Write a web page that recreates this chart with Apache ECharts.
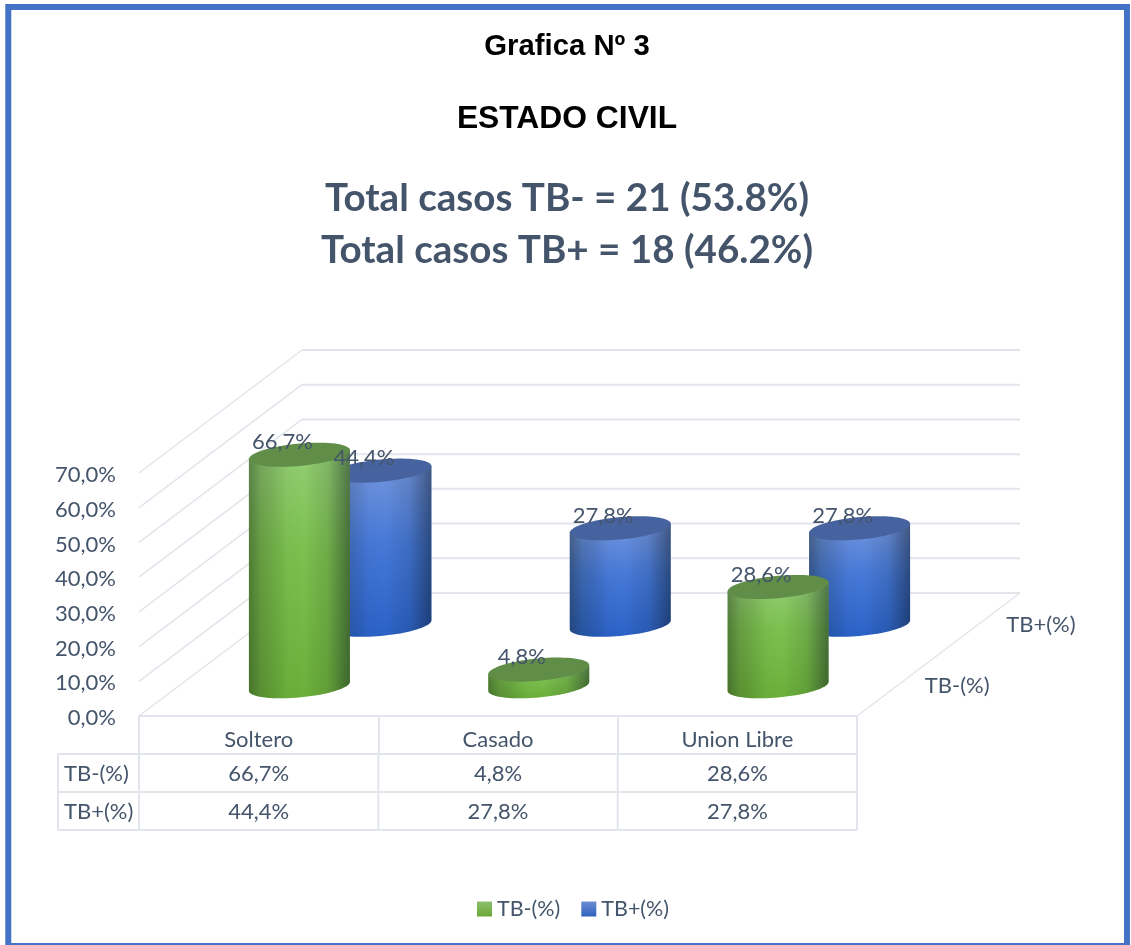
<!DOCTYPE html>
<html><head><meta charset="utf-8">
<style>html,body{margin:0;padding:0;background:#fff}#c{width:1131px;height:945px}</style>
<script src="https://cdn.jsdelivr.net/npm/echarts@6/dist/echarts.min.js"></script>
</head><body><div id="c"></div>
<script>
const categories = ['Soltero', 'Casado', 'Union Libre'];
const tbNeg = [66.7, 4.8, 28.6];
const tbPos = [44.4, 27.8, 27.8];
const seriesNames = ['TB-(%)', 'TB+(%)'];
const yTicks = [0, 10, 20, 30, 40, 50, 60, 70];

const DEPTH_X = 163, DEPTH_Y = -123;      // projection of the 3D depth axis
const ROW_H = 38, STUB_W = 81;            // data table layout
const WIDTH_RATIO = 0.422, ELL_B = 11.2, ELL_K = 4.5, CYL_SHIFT = 1;   // cylinder shape
const GRID_COLOR = '#E2E5EB', TEXT = '#44546A', FONT = 'Lato', LABEL_SIZE = 22;
const fmt = v => v.toFixed(1).replace('.', ',') + '%';
const H = (stops) => ({type:'linear',x:0,y:0,x2:1,y2:0,colorStops:stops});
const V = (stops) => ({type:'linear',x:0,y:0,x2:0,y2:1,colorStops:stops});
const stops = (...a) => a.map(([offset,color]) => ({offset,color}));

const edgeShade = H(stops([0,'rgba(20,30,20,.42)'],[.12,'rgba(20,30,20,.22)'],[.38,'rgba(0,0,0,.02)'],[.55,'rgba(0,0,0,0)'],[.78,'rgba(10,20,30,.12)'],[.93,'rgba(10,20,30,.36)'],[1,'rgba(10,20,30,.48)']));

function ellipsePts(cx, cy, a, from, to, n) {
  const p = [];
  for (let i = 0; i <= n; i++) {
    const t = from + (to - from) * i / n;
    p.push([cx + a * Math.cos(t), cy + ELL_B * Math.sin(t) - ELL_K * Math.cos(t)]);
  }
  return p;
}

function cylinder(depth, bodyFill, topFill) {
  return function (params, api) {
    const i = api.value(0), v = api.value(1);
    const base = api.coord([i, 0]), top = api.coord([i, v]);
    const a = api.size([1, 0])[0] * WIDTH_RATIO / 2;
    const cx = base[0] + DEPTH_X * depth, by = base[1] + DEPTH_Y * depth + CYL_SHIFT, ty = top[1] + DEPTH_Y * depth + CYL_SHIFT;
    const front = ellipsePts(cx, by, a, 0, Math.PI, 40);
    const pts = front.concat([[cx - a, ty + ELL_K], [cx + a, ty - ELL_K]]);
    return {type:'group', children:[
      {type:'polygon', shape:{points:pts}, style:{fill:bodyFill}},
      {type:'polygon', shape:{points:pts}, style:{fill:edgeShade}},
      {type:'polygon', shape:{points:ellipsePts(cx, ty, a, 0, Math.PI*2, 72)}, style:{fill:topFill}}
    ]};
  };
}

function frame(params, api) {
  const band = api.size([1, 0])[0];
  const p0 = api.coord([0, 0]);
  const x0 = p0[0] - band / 2, y0 = p0[1];
  const x1 = x0 + band * categories.length;
  const kids = [];
  const line = (x1_, y1_, x2_, y2_, w) => kids.push({type:'line', shape:{x1:x1_,y1:y1_,x2:x2_,y2:y2_}, style:{stroke:GRID_COLOR,lineWidth:w}});
  const txt = (text, x, y, align) => kids.push({type:'text', style:{text, x, y, align:align||'center', verticalAlign:'middle', fill:TEXT, font:LABEL_SIZE+'px '+FONT}});
  yTicks.forEach(t => {
    const y = api.coord([0, t])[1];
    line(x0, y, x0 + DEPTH_X, y + DEPTH_Y, 1.5);
    line(x0 + DEPTH_X, y + DEPTH_Y, x1 + DEPTH_X, y + DEPTH_Y, 2);
  });
  line(x1, y0, x1 + DEPTH_X, y0 + DEPTH_Y, 1.5);
  [1, 2, 3].forEach(r => line(x0 - STUB_W, y0 + ROW_H * r, x1, y0 + ROW_H * r, 2));
  line(x0 - STUB_W, y0 + ROW_H, x0 - STUB_W, y0 + ROW_H * 3, 2);
  for (let c = 0; c <= categories.length; c++) line(x0 + band * c, y0 + ROW_H, x0 + band * c, y0 + ROW_H * 3, 2);
  [tbNeg, tbPos].forEach((arr, r) => {
    const y = y0 + ROW_H * (r + 1.5) + 0.5;
    txt(seriesNames[r], x0 - STUB_W + 6, y, 'left');
    arr.forEach((v, c) => txt(fmt(v), api.coord([c, 0])[0], y));
  });
  [0.25, 0.75].forEach((d, r) => txt(seriesNames[r], x1 + DEPTH_X * d + 27, y0 + DEPTH_Y * d + 1, 'left'));
  return {type:'group', children:kids};
}

function dataLabel(params, api) {
  const i = api.value(0), v = api.value(1), d = api.value(2);
  const top = api.coord([i, v]);
  return {type:'text', style:{text:fmt(v), x:top[0] + DEPTH_X * d - 17, y:top[1] + DEPTH_Y * d - 11.5,
    align:'center', verticalAlign:'middle', fill:TEXT, font:LABEL_SIZE+'px '+FONT}};
}

const greenBody = V(stops([0,'#93CE74'],[.4,'#7CC04F'],[1,'#6BB03A']));
const blueBody = V(stops([0,'#7396DE'],[.45,'#4679D8'],[1,'#2B62C6']));
const greenKey = V(stops([0,'#8DBE6E'],[1,'#6BAA38']));
const blueKey = V(stops([0,'#6E8CD2'],[1,'#2F62BE']));
const labelData = tbPos.map((v,i)=>[i,v,.75]).concat(tbNeg.map((v,i)=>[i,v,.25]));
const titleBase = {left:562, textAlign:'center'};

echarts.init(document.getElementById('c'), null, {renderer:'canvas', width:1131, height:945}).setOption({
  animation:false,
  backgroundColor:'#fff',
  title:[
    {...titleBase, text:'Grafica Nº 3', top:27, textStyle:{fontFamily:'Liberation Sans',fontWeight:'bold',fontSize:29.3,color:'#000'}},
    {...titleBase, text:'ESTADO CIVIL', top:98, textStyle:{fontFamily:'Liberation Sans',fontWeight:'bold',fontSize:31.8,color:'#000'}},
    {...titleBase, text:'Total casos TB- = 21 (53.8%)', top:174, textStyle:{fontFamily:FONT,fontWeight:'bold',fontSize:38.6,color:TEXT}},
    {...titleBase, text:'Total casos TB+ = 18 (46.2%)', top:226, textStyle:{fontFamily:FONT,fontWeight:'bold',fontSize:38.6,color:TEXT}}
  ],
  graphic:[{type:'rect', silent:true, shape:{x:8.3,y:7,width:1118.7,height:939}, style:{fill:'none',stroke:'#4472C4',lineWidth:6}}],
  legend:{left:472, top:893, itemWidth:15, itemHeight:15, itemGap:21, icon:'rect',
    data:[{name:seriesNames[0],itemStyle:{color:greenKey}},{name:seriesNames[1],itemStyle:{color:blueKey}}],
    textStyle:{color:TEXT,fontFamily:FONT,fontSize:21.5}},
  grid:{left:139, top:473, width:718, height:243, containLabel:false},
  xAxis:{type:'category', data:categories, boundaryGap:true,
    axisLine:{lineStyle:{color:GRID_COLOR,width:2}},
    axisTick:{show:true, alignWithLabel:false, length:38, lineStyle:{color:GRID_COLOR,width:2}},
    axisLabel:{color:TEXT, fontFamily:FONT, fontSize:LABEL_SIZE, margin:13}},
  yAxis:{type:'value', min:0, max:70, interval:10, axisLine:{show:false}, axisTick:{show:false}, splitLine:{show:false},
    axisLabel:{color:TEXT, fontFamily:FONT, fontSize:LABEL_SIZE, margin:23, formatter:v => '{a|' + fmt(v) + '}',
      rich:{a:{color:TEXT, fontFamily:FONT, fontSize:LABEL_SIZE, padding:[4,0,0,0]}}}},
  series:[
    {type:'custom', name:'frame', z:1, silent:true, clip:false, renderItem:frame, data:[[0,0]], encode:{x:0,y:1}},
    {type:'custom', name:seriesNames[1], z:2, clip:false, itemStyle:{color:'#3F73D0'}, renderItem:cylinder(.75, blueBody, '#47639F'),
      data:tbPos.map((v,i)=>[i,v]), encode:{x:0,y:1}},
    {type:'custom', name:seriesNames[0], z:3, clip:false, itemStyle:{color:'#6FB33F'}, renderItem:cylinder(.25, greenBody, '#608D48'),
      data:tbNeg.map((v,i)=>[i,v]), encode:{x:0,y:1}},
    {type:'custom', name:'labels', z:4, silent:true, clip:false, renderItem:dataLabel, data:labelData, encode:{x:0,y:1}}
  ]
});
</script></body></html>
